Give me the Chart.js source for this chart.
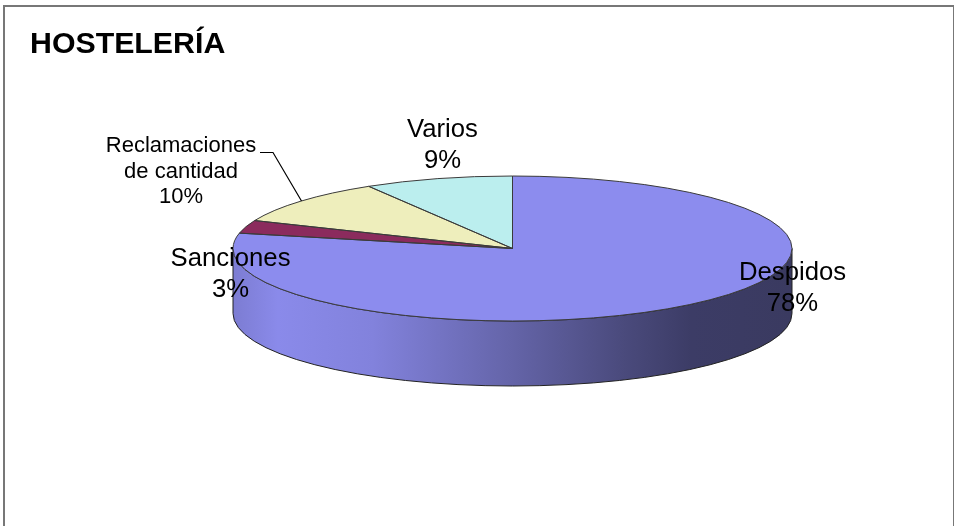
<!DOCTYPE html>
<html>
<head>
<meta charset="utf-8">
<title>Hostelería</title>
<script src="https://cdn.jsdelivr.net/npm/chart.js@4"></script>
<style>
    html, body { margin: 0; padding: 0; background: #fff; overflow: hidden; }
    #frame { position: absolute; left: 3px; top: 5px; width: 948px; height: 540px; border: 2px solid #777; }
    #chart1 { position: absolute; left: 0; top: 0; }
</style>
</head>
<body>
<div id="frame"></div>
<canvas id="chart1" width="954" height="526"></canvas>
<script>
var chartTitle = 'HOSTELERÍA';
var categories = ['Despidos', 'Sanciones', 'Reclamaciones de cantidad', 'Varios'];
// read from the slice edges, the printed labels are these values rounded
var values = [78.4, 2.9, 10.1, 8.6];
var sliceColors = ['#8c8cee', '#8b2b5d', '#eeeebc', '#bbeeee'];

// label text is split on lines, centre x and first line y
var labelLines = [['Despidos', '78%'], ['Sanciones', '3%'], ['Reclamaciones', 'de cantidad', '10%'], ['Varios', '9%']];
var labelSpots = [
    { x: 792.5, y: 273, size: 25.7, gap: 31 },
    { x: 230.5, y: 259, size: 25.7, gap: 31 },
    { x: 181, y: 146, size: 22, gap: 25.5 },
    { x: 442.5, y: 130, size: 25.7, gap: 31 }
];

var squash = 72.5 / 279.5;  // flattening of the pie
var depth = 65;             // height of the side wall

var pie3d = {
    id: 'pie3d',
    beforeDatasetsDraw: function(chart) {
        var ctx = chart.ctx;
        var first = chart.getDatasetMeta(0).data[0];
        var cx = first.x, cy = first.y, rx = first.outerRadius, ry = rx * squash;

        // side wall, only the front half can be seen
        var wall = ctx.createLinearGradient(cx - rx, 0, cx + rx, 0);
        wall.addColorStop(0, '#7c7cd2');
        wall.addColorStop(0.08, '#8a8aea');
        wall.addColorStop(0.25, '#8282dc');
        wall.addColorStop(0.5, '#6464a8');
        wall.addColorStop(0.7, '#4a4a7c');
        wall.addColorStop(0.82, '#3c3c66');
        wall.addColorStop(1, '#3a3a60');
        ctx.save();
        ctx.beginPath();
        ctx.ellipse(cx, cy, rx, ry, 0, 0, Math.PI);
        ctx.lineTo(cx - rx, cy + depth);
        ctx.ellipse(cx, cy + depth, rx, ry, 0, Math.PI, 0, true);
        ctx.closePath();
        ctx.fillStyle = wall;
        ctx.fill();
        ctx.strokeStyle = '#222';
        ctx.lineWidth = 1;
        ctx.stroke();
        ctx.restore();

        // flatten the round pie that the library draws next
        ctx.save();
        ctx.translate(cx, cy);
        ctx.scale(1, squash);
        ctx.translate(-cx, -cy);
    },
    afterDatasetsDraw: function(chart) {
        var ctx = chart.ctx;
        ctx.restore();

        var arcs = chart.getDatasetMeta(0).data;
        var cx = arcs[0].x, cy = arcs[0].y, rx = arcs[0].outerRadius, ry = rx * squash;

        ctx.save();
        ctx.strokeStyle = '#3a3a3a';
        ctx.lineWidth = 1;
        arcs.forEach(function(arc) {
            ctx.beginPath();
            ctx.moveTo(cx, cy);
            ctx.ellipse(cx, cy, rx, ry, 0, arc.startAngle, arc.endAngle);
            ctx.closePath();
            ctx.stroke();
        });

        // leader line of the small label
        ctx.strokeStyle = '#000';
        ctx.lineWidth = 1.2;
        ctx.beginPath();
        ctx.moveTo(260, 152.5);
        ctx.lineTo(273, 152.5);
        ctx.lineTo(301.5, 201);
        ctx.stroke();

        // labels
        ctx.fillStyle = '#000';
        ctx.textAlign = 'center';
        ctx.textBaseline = 'middle';
        labelLines.forEach(function(lines, i) {
            var spot = labelSpots[i];
            ctx.font = spot.size + 'px "Liberation Sans", Arial, sans-serif';
            lines.forEach(function(text, n) {
                ctx.fillText(text, spot.x, spot.y + n * spot.gap);
            });
        });

        ctx.textAlign = 'left';
        ctx.textBaseline = 'alphabetic';
        ctx.font = 'bold 30.3px "Liberation Sans", Arial, sans-serif';
        ctx.fillText(chartTitle, 30, 53);
        ctx.restore();
    }
};

var ctx = document.getElementById('chart1').getContext('2d');
var myChart = new Chart(ctx, {
    type: 'pie',
    data: {
        labels: categories,
        datasets: [{
            data: values,
            backgroundColor: sliceColors,
            borderWidth: 0
        }]
    },
    options: {
        responsive: false,
        animation: false,
        radius: 279.5,
        layout: {
            padding: { left: 71, bottom: 29 }
        },
        plugins: {
            legend: { display: false },
            title: { display: false },
            tooltip: { enabled: false }
        }
    },
    plugins: [pie3d]
});
</script>
</body>
</html>
